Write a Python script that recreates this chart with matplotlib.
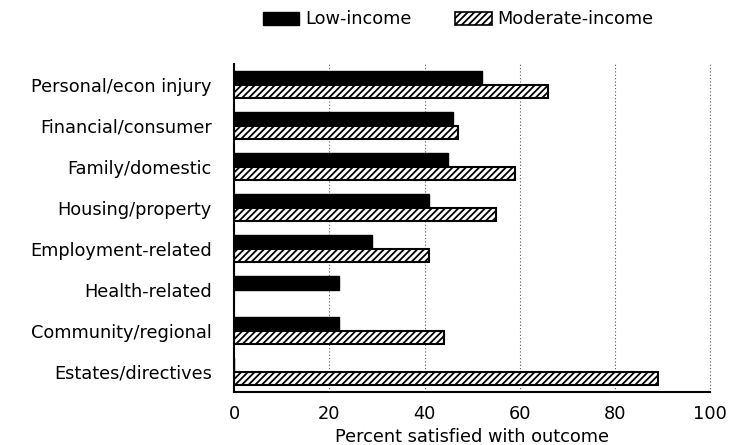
'''Satisfaction with outcome by problem type, low vs moderate income'''

import numpy as np
import matplotlib.pyplot as plt
from matplotlib.patches import Rectangle

categories = ['Personal/econ injury', 'Financial/consumer', 'Family/domestic',
              'Housing/property', 'Employment-related', 'Health-related',
              'Community/regional', 'Estates/directives']
low_income = [52, 46, 45, 41, 29, 22, 22, 0]
moderate_income = [66, 47, 59, 55, 41, 0, 44, 89]
x_ticks = [0, 20, 40, 60, 80, 100]

plt.rcParams['font.family'] = ['DejaVu Sans']
plt.rcParams['hatch.linewidth'] = 1.3
fs = 12.8

fig = plt.figure(figsize=(7.36, 4.45), dpi=100)
ax = fig.add_axes([0.318, 0.119, 0.647, 0.737])

y = np.arange(len(categories))
h = 0.33
ax.barh(y - h / 2, low_income, height=h, color='black', edgecolor='black')
ax.barh(y + h / 2, moderate_income, height=h, color='white', edgecolor='black',
        hatch='/////', linewidth=1.5)

ax.set_ylim(len(categories) - 0.5, -0.5)
ax.set_xlim(0, 100)
ax.set_yticks(y)
ax.set_yticklabels(categories, fontsize=fs)
ax.set_xticks(x_ticks)
ax.set_xticklabels([str(t) for t in x_ticks], fontsize=fs)
ax.tick_params(axis='y', length=0, pad=16)
ax.tick_params(axis='x', length=0, pad=9)
ax.set_xlabel('Percent satisfied with outcome', fontsize=fs, labelpad=4)

for t in x_ticks[1:]:
    ax.axvline(t, color='#555555', linestyle=(0, (1, 2)), linewidth=0.8, zorder=0,
               clip_on=False)

ax.spines['top'].set_visible(False)
ax.spines['right'].set_visible(False)
ax.spines['left'].set_linewidth(1.5)
ax.spines['bottom'].set_linewidth(1.5)

# legend drawn by hand: boxes of different widths, as in the original
fig.add_artist(Rectangle((0.357, 0.944), 0.049, 0.029, transform=fig.transFigure,
                         facecolor='black', edgecolor='black'))
fig.add_artist(Rectangle((0.618, 0.944), 0.050, 0.029, transform=fig.transFigure,
                         facecolor='white', edgecolor='black', hatch='/////', linewidth=1.2))
fig.text(0.415, 0.958, 'Low-income', fontsize=fs, va='center', ha='left')
fig.text(0.675, 0.958, 'Moderate-income', fontsize=fs, va='center', ha='left')

fig.savefig('out.png', dpi=100)
